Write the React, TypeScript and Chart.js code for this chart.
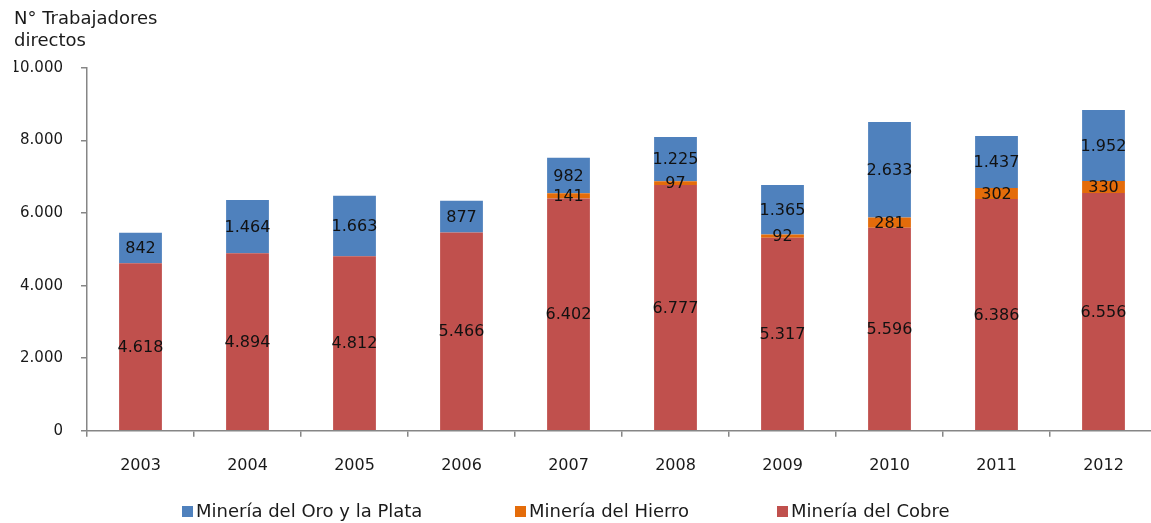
import React, { useEffect, useRef } from "react";
import { Chart, registerables } from "chart.js";

Chart.register(...registerables);

const years = ["2003", "2004", "2005", "2006", "2007", "2008", "2009", "2010", "2011", "2012"];
const cobre = [4618, 4894, 4812, 5466, 6402, 6777, 5317, 5596, 6386, 6556];
const hierro = [0, 0, 0, 0, 141, 97, 92, 281, 302, 330];
const oroPlata = [842, 1464, 1663, 877, 982, 1225, 1365, 2633, 1437, 1952];
const yTicks = [0, 2000, 4000, 6000, 8000, 10000];
const titleLines = ["N° Trabajadores", "directos"];
const seriesNames = ["Minería del Oro y la Plata", "Minería del Hierro", "Minería del Cobre"];

const BLUE = "#4F81BD";
const ORANGE = "#E46C0A";
const RED = "#C0504D";
const FONT = "'DejaVu Sans', sans-serif";
const AXIS = "#868686";

function fmt(n: number): string {
  const s = Math.round(n).toString();
  return s.replace(/\B(?=(\d{3})+(?!\d))/g, ".");
}

const labelsPlugin = {
  id: "segLabels",
  afterDatasetsDraw(chart: any) {
    const ctx = chart.ctx;
    ctx.save();
    ctx.font = `16px ${FONT}`;
    ctx.fillStyle = "#111";
    ctx.textAlign = "center";
    ctx.textBaseline = "middle";
    chart.data.datasets.forEach((ds: any, di: number) => {
      const meta = chart.getDatasetMeta(di);
      meta.data.forEach((el: any, i: number) => {
        const v = ds.data[i];
        if (!v) return;
        const p = el.getProps(["x", "y", "base"], true);
        ctx.fillText(fmt(v), p.x, (p.y + p.base) / 2 + 1);
      });
    });
    ctx.restore();
  },
};

const legendItems = [
  { name: seriesNames[0], color: BLUE, x: 182 },
  { name: seriesNames[1], color: ORANGE, x: 515 },
  { name: seriesNames[2], color: RED, x: 777 },
];

const legendPlugin = {
  id: "customLegend",
  afterDraw(chart: any) {
    const ctx = chart.ctx;
    ctx.save();
    ctx.font = `18px ${FONT}`;
    ctx.textAlign = "left";
    ctx.textBaseline = "middle";
    const cy = 511;
    legendItems.forEach((it) => {
      ctx.fillStyle = it.color;
      ctx.fillRect(it.x, cy - 5, 11, 11);
      ctx.fillStyle = "#1a1a1a";
      ctx.fillText(it.name, it.x + 14, cy + 1);
    });
    ctx.restore();
  },
};

export default function App() {
  const ref = useRef<HTMLCanvasElement | null>(null);
  useEffect(() => {
    if (!ref.current) return;
    const chart = new Chart(ref.current, {
      type: "bar",
      data: {
        labels: years,
        datasets: [
          { label: seriesNames[2], data: cobre, backgroundColor: RED, barPercentage: 0.5, categoryPercentage: 0.8 },
          { label: seriesNames[1], data: hierro, backgroundColor: ORANGE, barPercentage: 0.5, categoryPercentage: 0.8 },
          { label: seriesNames[0], data: oroPlata, backgroundColor: BLUE, barPercentage: 0.5, categoryPercentage: 0.8 },
        ],
      },
      options: {
        animation: false,
        responsive: false,
        maintainAspectRatio: false,
        layout: { padding: { left: 14, right: 0, top: 0, bottom: 29 } },
        plugins: {
          legend: { display: false },
          tooltip: { enabled: false },
          title: {
            display: true,
            text: titleLines,
            align: "start",
            color: "#1a1a1a",
            font: { family: FONT, size: 18, weight: "normal", lineHeight: 1.22 },
            padding: { top: 8, bottom: 16 },
          },
        },
        scales: {
          x: {
            stacked: true,
            grid: { display: true, drawOnChartArea: false, drawTicks: true, tickLength: 6, color: AXIS, lineWidth: 1.5, offset: true },
            border: { display: true, color: AXIS, width: 1.5 },
            ticks: { color: "#1a1a1a", font: { family: FONT, size: 16 }, padding: 19, maxRotation: 0 },
          },
          y: {
            stacked: true,
            min: 0,
            max: 10000,
            afterFit(scale: any) {
              scale.width = 73;
            },
            afterBuildTicks(scale: any) {
              scale.ticks = yTicks.map((v) => ({ value: v }));
            },
            grid: { display: true, drawOnChartArea: false, drawTicks: true, tickLength: 6, color: AXIS, lineWidth: 1.5 },
            border: { display: true, color: AXIS, width: 1.5 },
            ticks: {
              color: "#1a1a1a",
              font: { family: FONT, size: 15 },
              padding: 18,
              callback: (v: any) => fmt(Number(v)),
            },
          },
        },
      },
      plugins: [labelsPlugin, legendPlugin],
    } as any);
    return () => chart.destroy();
  }, []);
  return (
    <div style={{ position: "fixed", left: 0, top: 0, width: 1151, height: 523, background: "#fff", overflow: "hidden" }}>
      <canvas ref={ref} width={1157} height={523} style={{ width: 1157, height: 523, display: "block" }} />
    </div>
  );
}
